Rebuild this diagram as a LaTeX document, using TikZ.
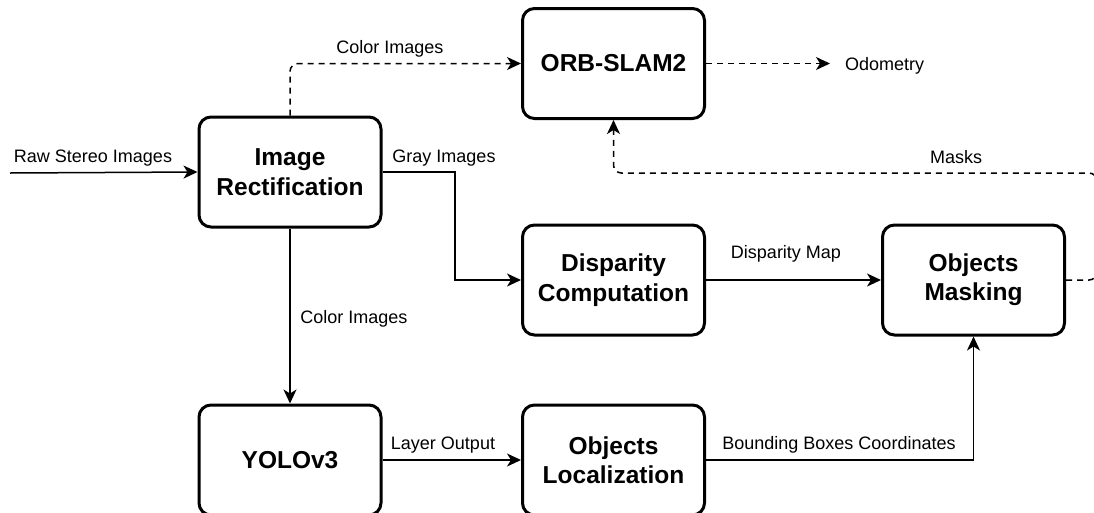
\documentclass[tikz,border=0pt]{standalone}
\usepackage{fontspec}
\setmainfont{Liberation Sans}
\usetikzlibrary{arrows.meta}
\begin{document}
\begin{tikzpicture}[x=1pt,y=-1pt,
  box/.style={draw,line width=3pt,rounded corners=12pt,minimum width=182pt,minimum height=110pt,align=center,inner sep=0pt,font=\fontsize{24.5}{29.4}\selectfont\bfseries},
  lbl/.style={inner sep=0pt,font=\fontsize{18}{21.6}\selectfont},
  conn/.style={line width=1.5pt},
  arr/.style={conn,-{Stealth[length=14pt,width=13pt,inset=4pt]}},
  dsh/.style={dash pattern=on 6pt off 5pt,rounded corners=8pt}]
\useasboundingbox (0,0) rectangle (1094,512);

% boxes
\node[box] (ir)   at (290,172)   {Image\\Rectification};
\node[box] (orb)  at (613.5,63.5) {ORB-SLAM2};
\node[box] (disp) at (613.5,280) {Disparity\\Computation};
\node[box] (mask) at (973.5,280) {Objects\\Masking};
\node[box] (yolo) at (290,460)   {YOLOv3};
\node[box] (loc)  at (613.5,460) {Objects\\Localization};

% labels
\node[lbl] (lraw)  at (93,158)  {Raw Stereo Images};
\node[lbl] (lcol1) at (390,49)  {Color Images};
\node[lbl] (lgray) at (444,158) {Gray Images};
\node[lbl,anchor=west] (odo) at (845,66) {Odometry};
\node[lbl] (lmask) at (956,157) {Masks};
\node[lbl] (ldisp) at (786,254) {Disparity Map};
\node[lbl] (lcol2) at (354,319) {Color Images};
\node[lbl] (llay)  at (443,445) {Layer Output};
\node[lbl] (lbb)   at (839,445) {Bounding Boxes Coordinates};

% coordinates
\coordinate (rawin) at (10,173);
\coordinate (g1) at (455,172);
\coordinate (m1) at (1097,173);

% connectors
\draw[arr] (rawin) -- (ir.west);
\draw[arr,dsh] (ir.north) |- (orb.west);
\draw[arr,dash pattern=on 6pt off 5pt,shorten >=15pt] (orb.east) -- (orb.east -| odo.west);
\draw[arr] (ir.east) -- (g1) |- (disp.west);
\draw[arr] (ir.south) -- (yolo.north);
\draw[arr] (yolo.east) -- (loc.west);
\draw[arr] (disp.east) -- (mask.west);
\draw[arr] (loc.east) -| (mask.south);
\draw[arr,dsh] (mask.east) -| (m1) -| (orb.south);
\end{tikzpicture}
\end{document}
